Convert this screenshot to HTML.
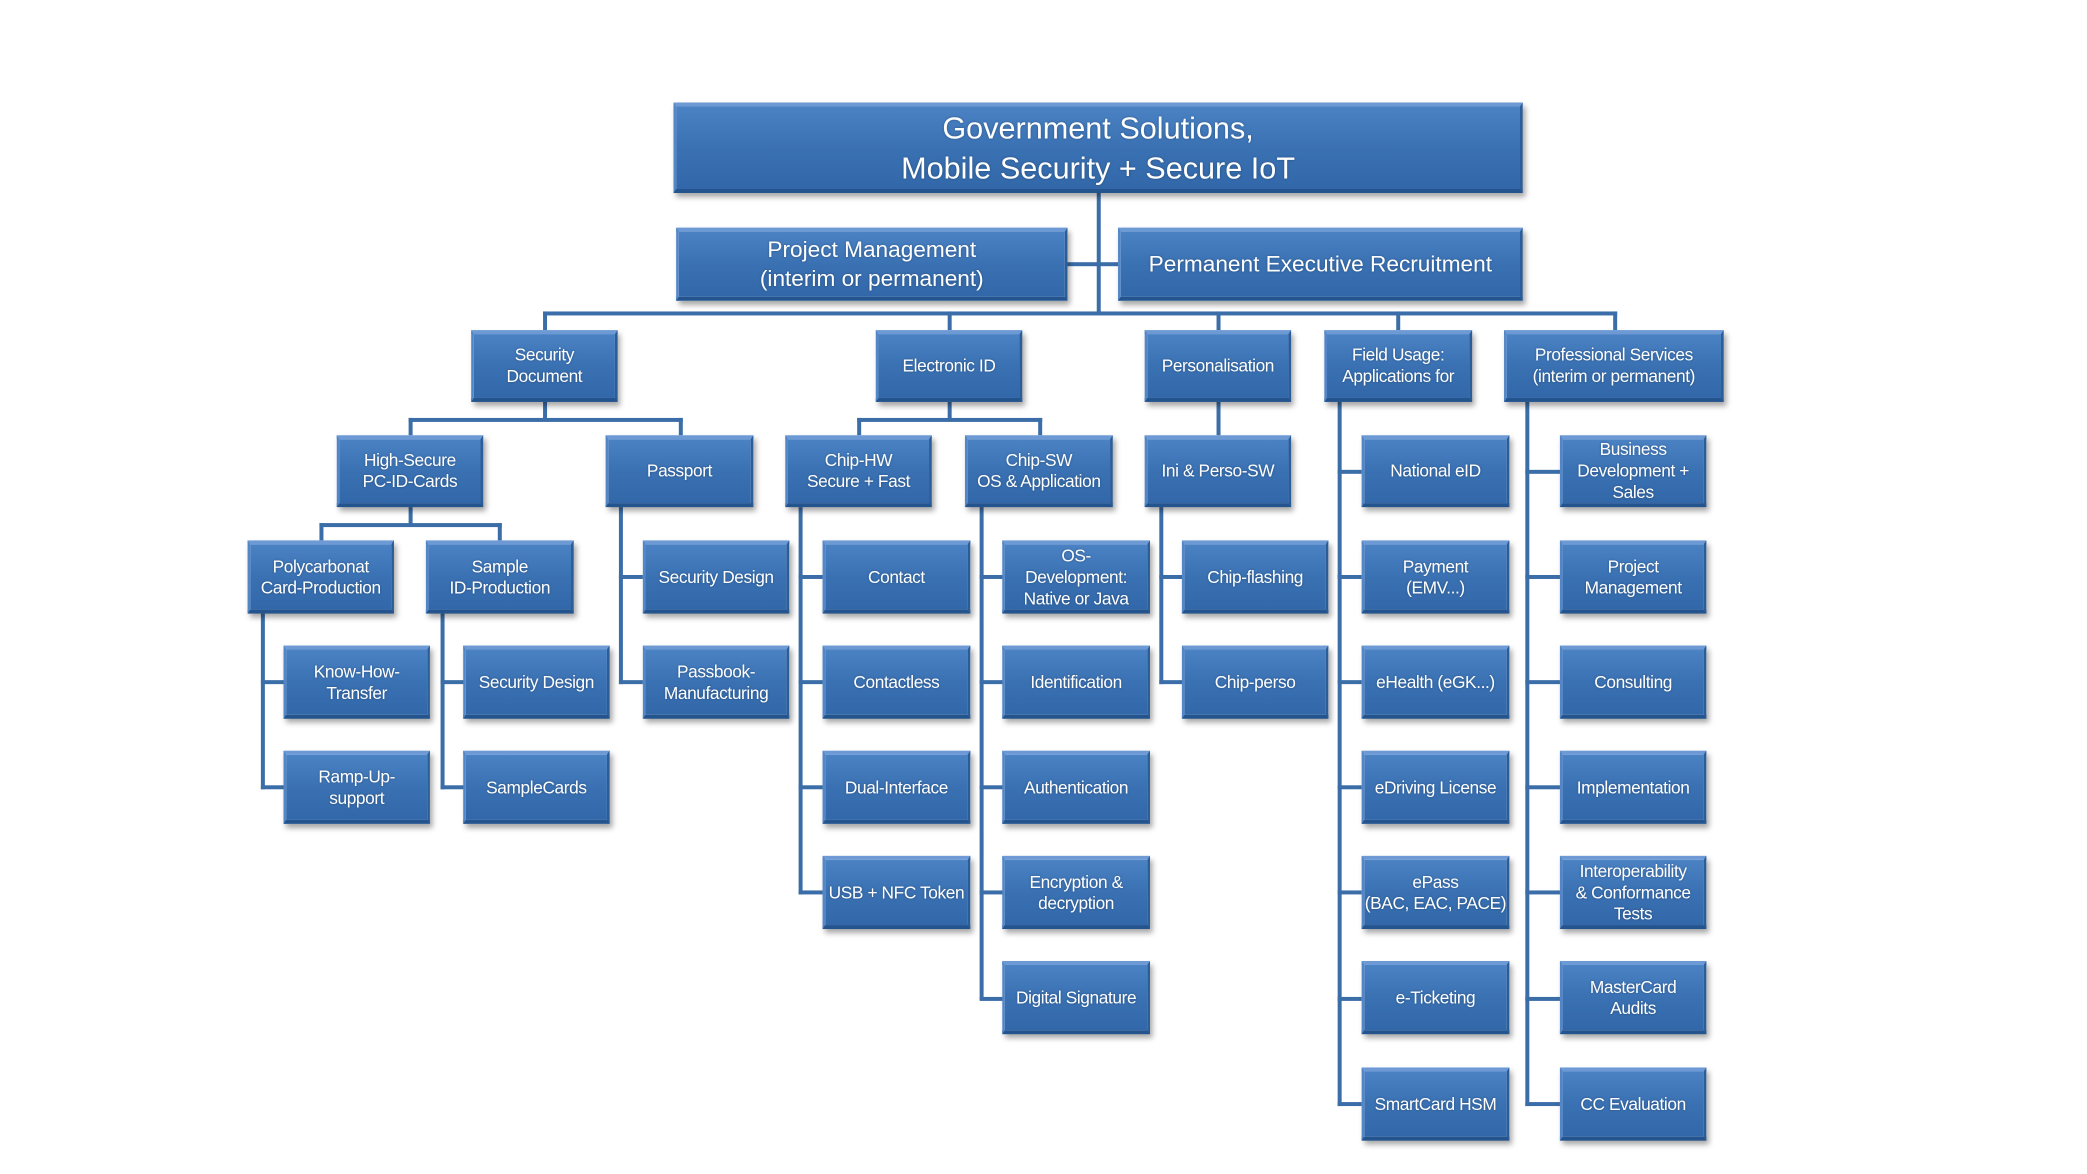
<!DOCTYPE html>
<html><head><meta charset="utf-8">
<style>
html,body{margin:0;padding:0;background:#fff;width:2087px;height:1174px;overflow:hidden}
#c{position:absolute;left:0;top:0;width:1568px;height:882px;transform:scale(1.331);transform-origin:0 0;font-family:"Liberation Sans",sans-serif}
.b{position:absolute;box-sizing:border-box;display:flex;align-items:center;justify-content:center;text-align:center;color:#fff;font-size:13px;line-height:16px;letter-spacing:-0.3px;
background:linear-gradient(#4a82c4,#3a71b3 50%,#3268a9);border-top:3px solid #6d9ad4;border-left:2px solid #5386c6;border-right:2px solid #2b5d99;border-bottom:3px solid #24548d;box-shadow:2px 3px 4px rgba(0,0,0,0.35);text-shadow:0 0 2px rgba(0,0,0,0.3)}
.h{position:absolute;height:3px;background:#3b6ea8}
.v{position:absolute;width:3px;background:#3b6ea8}
</style></head><body><div id="c">
<!-- connectors -->
<div class="v" style="left:824px;top:145px;height:91px"></div>
<div class="h" style="left:802px;top:197px;width:38px"></div>
<div class="h" style="left:408px;top:234px;width:807px"></div>
<div class="v" style="left:408px;top:234px;height:14px"></div>
<div class="v" style="left:712px;top:234px;height:14px"></div>
<div class="v" style="left:914px;top:234px;height:14px"></div>
<div class="v" style="left:1049px;top:234px;height:14px"></div>
<div class="v" style="left:1212px;top:234px;height:14px"></div>
<!-- security doc -->
<div class="v" style="left:408px;top:302px;height:13px"></div>
<div class="h" style="left:307px;top:314px;width:206px"></div>
<div class="v" style="left:307px;top:314px;height:13px"></div>
<div class="v" style="left:510px;top:314px;height:13px"></div>
<!-- electronic id -->
<div class="v" style="left:712px;top:302px;height:13px"></div>
<div class="h" style="left:644px;top:314px;width:139px"></div>
<div class="v" style="left:644px;top:314px;height:13px"></div>
<div class="v" style="left:780px;top:314px;height:13px"></div>
<!-- personalisation -->
<div class="v" style="left:914px;top:302px;height:25px"></div>
<!-- field usage -->
<div class="v" style="left:1005px;top:302px;height:529px"></div>
<div class="h" style="left:1005px;top:353px;width:18px"></div>
<div class="h" style="left:1005px;top:432px;width:18px"></div>
<div class="h" style="left:1005px;top:511px;width:18px"></div>
<div class="h" style="left:1005px;top:590px;width:18px"></div>
<div class="h" style="left:1005px;top:669px;width:18px"></div>
<div class="h" style="left:1005px;top:749px;width:18px"></div>
<div class="h" style="left:1005px;top:828px;width:18px"></div>
<!-- professional -->
<div class="v" style="left:1146px;top:302px;height:529px"></div>
<div class="h" style="left:1146px;top:353px;width:26px"></div>
<div class="h" style="left:1146px;top:432px;width:26px"></div>
<div class="h" style="left:1146px;top:511px;width:26px"></div>
<div class="h" style="left:1146px;top:590px;width:26px"></div>
<div class="h" style="left:1146px;top:669px;width:26px"></div>
<div class="h" style="left:1146px;top:749px;width:26px"></div>
<div class="h" style="left:1146px;top:828px;width:26px"></div>
<!-- high secure -->
<div class="v" style="left:307px;top:381px;height:13px"></div>
<div class="h" style="left:240px;top:393px;width:137px"></div>
<div class="v" style="left:240px;top:393px;height:13px"></div>
<div class="v" style="left:374px;top:393px;height:13px"></div>
<!-- passport -->
<div class="v" style="left:465px;top:381px;height:133px"></div>
<div class="h" style="left:465px;top:432px;width:18px"></div>
<div class="h" style="left:465px;top:511px;width:18px"></div>
<!-- chip hw -->
<div class="v" style="left:600px;top:381px;height:291px"></div>
<div class="h" style="left:600px;top:432px;width:18px"></div>
<div class="h" style="left:600px;top:511px;width:18px"></div>
<div class="h" style="left:600px;top:590px;width:18px"></div>
<div class="h" style="left:600px;top:669px;width:18px"></div>
<!-- chip sw -->
<div class="v" style="left:736px;top:381px;height:370px"></div>
<div class="h" style="left:736px;top:432px;width:18px"></div>
<div class="h" style="left:736px;top:511px;width:18px"></div>
<div class="h" style="left:736px;top:590px;width:18px"></div>
<div class="h" style="left:736px;top:669px;width:18px"></div>
<div class="h" style="left:736px;top:749px;width:18px"></div>
<!-- ini perso -->
<div class="v" style="left:871px;top:381px;height:133px"></div>
<div class="h" style="left:871px;top:432px;width:18px"></div>
<div class="h" style="left:871px;top:511px;width:18px"></div>
<!-- polycarbonat / sample -->
<div class="v" style="left:196px;top:461px;height:132px"></div>
<div class="h" style="left:196px;top:511px;width:18px"></div>
<div class="h" style="left:196px;top:590px;width:18px"></div>
<div class="v" style="left:331px;top:461px;height:132px"></div>
<div class="h" style="left:331px;top:511px;width:18px"></div>
<div class="h" style="left:331px;top:590px;width:18px"></div>

<!-- boxes -->
<div class="b" style="left:506px;top:77px;width:638px;height:68px;font-size:23px;line-height:30px;letter-spacing:0">Government Solutions,<br>Mobile Security + Secure IoT</div>
<div class="b" style="left:508px;top:171px;width:294px;height:55px;font-size:17px;line-height:22px;letter-spacing:0">Project Management<br>(interim or permanent)</div>
<div class="b" style="left:840px;top:171px;width:304px;height:55px;font-size:17px;letter-spacing:0">Permanent Executive Recruitment</div>

<div class="b" style="left:354px;top:248px;width:110px;height:54px">Security<br>Document</div>
<div class="b" style="left:658px;top:248px;width:110px;height:54px">Electronic ID</div>
<div class="b" style="left:860px;top:248px;width:110px;height:54px">Personalisation</div>
<div class="b" style="left:995px;top:248px;width:111px;height:54px">Field Usage:<br>Applications for</div>
<div class="b" style="left:1130px;top:248px;width:165px;height:54px">Professional Services<br>(interim or permanent)</div>

<div class="b" style="left:253px;top:327px;width:110px;height:54px">High-Secure<br>PC-ID-Cards</div>
<div class="b" style="left:455px;top:327px;width:111px;height:54px">Passport</div>
<div class="b" style="left:590px;top:327px;width:110px;height:54px">Chip-HW<br>Secure + Fast</div>
<div class="b" style="left:725px;top:327px;width:111px;height:54px">Chip-SW<br>OS &amp; Application</div>
<div class="b" style="left:860px;top:327px;width:110px;height:54px">Ini &amp; Perso-SW</div>
<div class="b" style="left:1023px;top:327px;width:111px;height:54px">National eID</div>
<div class="b" style="left:1172px;top:327px;width:110px;height:54px">Business<br>Development +<br>Sales</div>

<div class="b" style="left:186px;top:406px;width:110px;height:55px">Polycarbonat<br>Card-Production</div>
<div class="b" style="left:320px;top:406px;width:111px;height:55px">Sample<br>ID-Production</div>
<div class="b" style="left:483px;top:406px;width:110px;height:55px">Security Design</div>
<div class="b" style="left:618px;top:406px;width:111px;height:55px">Contact</div>
<div class="b" style="left:753px;top:406px;width:111px;height:55px">OS-<br>Development:<br>Native or Java</div>
<div class="b" style="left:888px;top:406px;width:110px;height:55px">Chip-flashing</div>
<div class="b" style="left:1023px;top:406px;width:111px;height:55px">Payment<br>(EMV...)</div>
<div class="b" style="left:1172px;top:406px;width:110px;height:55px">Project<br>Management</div>

<div class="b" style="left:213px;top:485px;width:110px;height:55px">Know-How-<br>Transfer</div>
<div class="b" style="left:348px;top:485px;width:110px;height:55px">Security Design</div>
<div class="b" style="left:483px;top:485px;width:110px;height:55px">Passbook-<br>Manufacturing</div>
<div class="b" style="left:618px;top:485px;width:111px;height:55px">Contactless</div>
<div class="b" style="left:753px;top:485px;width:111px;height:55px">Identification</div>
<div class="b" style="left:888px;top:485px;width:110px;height:55px">Chip-perso</div>
<div class="b" style="left:1023px;top:485px;width:111px;height:55px">eHealth (eGK...)</div>
<div class="b" style="left:1172px;top:485px;width:110px;height:55px">Consulting</div>

<div class="b" style="left:213px;top:564px;width:110px;height:55px">Ramp-Up-<br>support</div>
<div class="b" style="left:348px;top:564px;width:110px;height:55px">SampleCards</div>
<div class="b" style="left:618px;top:564px;width:111px;height:55px">Dual-Interface</div>
<div class="b" style="left:753px;top:564px;width:111px;height:55px">Authentication</div>
<div class="b" style="left:1023px;top:564px;width:111px;height:55px">eDriving License</div>
<div class="b" style="left:1172px;top:564px;width:110px;height:55px">Implementation</div>

<div class="b" style="left:618px;top:643px;width:111px;height:55px">USB + NFC Token</div>
<div class="b" style="left:753px;top:643px;width:111px;height:55px">Encryption &amp;<br>decryption</div>
<div class="b" style="left:1023px;top:643px;width:111px;height:55px">ePass<br>(BAC, EAC, PACE)</div>
<div class="b" style="left:1172px;top:643px;width:110px;height:55px">Interoperability<br>&amp; Conformance<br>Tests</div>

<div class="b" style="left:753px;top:722px;width:111px;height:55px">Digital Signature</div>
<div class="b" style="left:1023px;top:722px;width:111px;height:55px">e-Ticketing</div>
<div class="b" style="left:1172px;top:722px;width:110px;height:55px">MasterCard<br>Audits</div>

<div class="b" style="left:1023px;top:802px;width:111px;height:55px">SmartCard HSM</div>
<div class="b" style="left:1172px;top:802px;width:110px;height:55px">CC Evaluation</div>
</div></body></html>
